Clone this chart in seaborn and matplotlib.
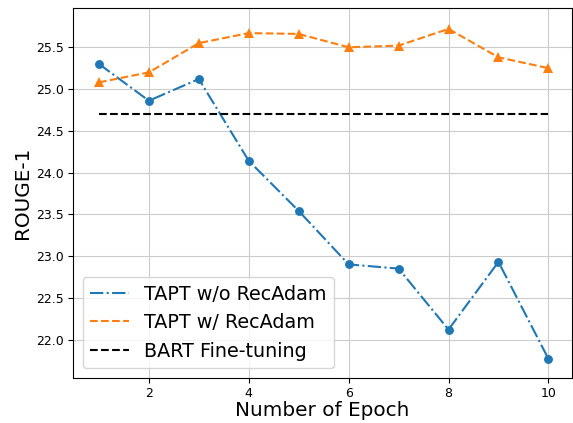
"""ROUGE-1 vs number of epochs: TAPT with/without RecAdam."""
import matplotlib
matplotlib.use("Agg")
import matplotlib.pyplot as plt
from matplotlib.lines import Line2D
import pandas as pd
import seaborn as sns

epochs = [1, 2, 3, 4, 5, 6, 7, 8, 9, 10]
tapt_wo_recadam = [25.30, 24.86, 25.12, 24.14, 23.54, 22.90, 22.85, 22.12, 22.93, 21.77]
tapt_w_recadam = [25.08, 25.20, 25.55, 25.67, 25.66, 25.50, 25.52, 25.72, 25.38, 25.25]
bart_finetune = 24.70

sns.set_style("whitegrid", {"axes.edgecolor": "black", "grid.color": "#cccccc",
                            "xtick.bottom": True, "ytick.left": True,
                            "text.color": "black", "axes.labelcolor": "black",
                            "xtick.color": "black", "ytick.color": "black"})
plt.rcParams["font.family"] = ["DejaVu Sans"]

df = pd.DataFrame({"epoch": epochs, "wo": tapt_wo_recadam, "w": tapt_w_recadam,
                   "bart": [bart_finetune] * len(epochs)})

fig = plt.figure(figsize=(5.73, 4.23), dpi=100)
ax = fig.add_axes([0.1274, 0.1064, 0.8706, 0.8746])

blue, orange = "#1f77b4", "#ff7f0e"
sns.lineplot(data=df, x="epoch", y="wo", ax=ax, color=blue, linestyle="-.",
             marker="o", markersize=6.4, markeredgewidth=0, linewidth=1.5, legend=False)
sns.lineplot(data=df, x="epoch", y="w", ax=ax, color=orange, linestyle="--",
             marker="^", markersize=7.8, markeredgewidth=0, linewidth=1.5, legend=False)
sns.lineplot(data=df, x="epoch", y="bart", ax=ax, color="black", linestyle="--",
             linewidth=1.5, legend=False)

ax.set_xlim(0.48, 10.47)
ax.set_ylim(21.54, 25.97)
ax.set_xticks([2, 4, 6, 8, 10])
ax.set_yticks([22.0, 22.5, 23.0, 23.5, 24.0, 24.5, 25.0, 25.5])
ax.tick_params(labelsize=9, length=3.5, width=0.8, pad=3)
ax.set_xlabel("Number of Epoch", fontsize=14.4, labelpad=1)
ax.set_ylabel("ROUGE-1", fontsize=14.4, labelpad=3)
for s in ax.spines.values():
    s.set_linewidth(0.8)

handles = [
    Line2D([], [], color=blue, linestyle="-.", linewidth=1.5),
    Line2D([], [], color=orange, linestyle="--", linewidth=1.5),
    Line2D([], [], color="black", linestyle="--", linewidth=1.5),
]
labels = ["TAPT w/o RecAdam", "TAPT w/ RecAdam", "BART Fine-tuning"]
ax.legend(handles, labels, loc="lower left", fontsize=13.8, frameon=True)

fig.savefig("out.png", dpi=100)
